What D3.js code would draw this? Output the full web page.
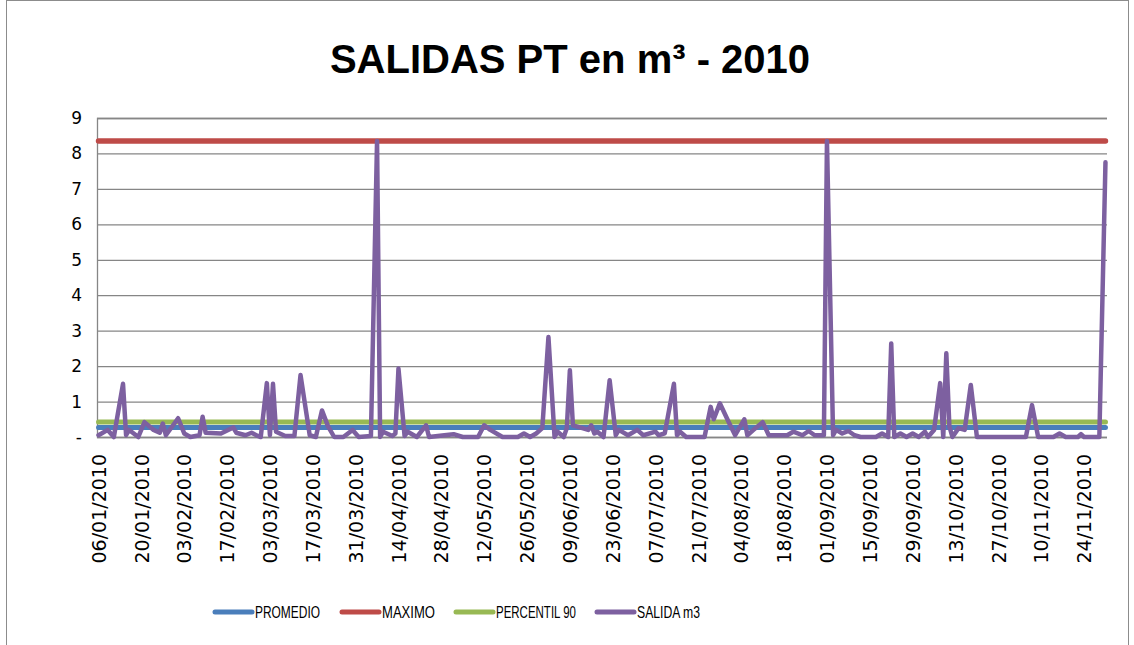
<!DOCTYPE html>
<html>
<head>
<meta charset="utf-8">
<script src="https://cdn.jsdelivr.net/npm/d3@7"></script>
<style>
  body { margin: 0; background: #fff; }
  svg { display: block; }
</style>
</head>
<body>
<div id="chart-holder"></div>
<script>
// tick labels on the date axis (every 14 days)
var tickLabels = ["06/01/2010","20/01/2010","03/02/2010","17/02/2010","03/03/2010","17/03/2010",
  "31/03/2010","14/04/2010","28/04/2010","12/05/2010","26/05/2010","09/06/2010","23/06/2010",
  "07/07/2010","21/07/2010","04/08/2010","18/08/2010","01/09/2010","15/09/2010","29/09/2010",
  "13/10/2010","27/10/2010","10/11/2010","24/11/2010"];

var yTicks = [0, 1, 2, 3, 4, 5, 6, 7, 8, 9];

// reference lines
var promedio = 0.27;
var maximo = 8.35;
var percentil90 = 0.42;

// SALIDA m3
var salidaDates = ["06/01","09/01","11/01","14/01","15/01","16/01","19/01","21/01","24/01","26/01",
  "27/01","28/01","01/02","03/02","05/02","08/02","09/02","10/02","15/02","19/02","20/02","23/02",
  "25/02","27/02","28/02","02/03","03/03","04/03","05/03","08/03","11/03","13/03","16/03","18/03",
  "20/03","22/03","24/03","27/03","30/03","01/04","05/04","07/04","08/04","09/04","12/04","13/04",
  "14/04","16/04","17/04","20/04","23/04","24/04","29/04","02/05","05/05","10/05","12/05","14/05",
  "18/05","23/05","25/05","27/05","29/05","31/05","02/06","04/06","05/06","07/06","08/06","09/06",
  "10/06","12/06","15/06","16/06","17/06","18/06","20/06","22/06","24/06","25/06","28/06","01/07",
  "03/07","07/07","08/07","10/07","13/07","14/07","15/07","17/07","23/07","25/07","26/07","28/07",
  "31/07","02/08","05/08","06/08","08/08","11/08","13/08","19/08","21/08","24/08","26/08","28/08",
  "31/08","01/09","03/09","04/09","06/09","08/09","10/09","12/09","17/09","19/09","21/09","22/09",
  "23/09","25/09","27/09","29/09","01/10","03/10","04/10","06/10","08/10","09/10","10/10","11/10",
  "12/10","14/10","16/10","18/10","20/10","25/10","31/10","05/11","07/11","09/11","14/11","16/11",
  "18/11","22/11","23/11","24/11","29/11","01/12"];
var salidaValues = [0.05,0.2,0,1.5,0.05,0.2,0,0.42,0.2,0.12,
  0.38,0.05,0.53,0.1,0,0.05,0.57,0.12,0.1,0.27,0.12,0.05,
  0.12,0.03,0,1.52,0.05,1.5,0.15,0.03,0.03,1.75,0.05,0,
  0.75,0.3,0,0,0.2,0,0.03,8.35,0,0.15,0.03,0.1,
  1.93,0.03,0.15,0,0.33,0,0.05,0.08,0,0,0.33,0.2,
  0,0,0.1,0,0.1,0.25,2.82,0,0.15,0,0.25,1.88,
  0.33,0.28,0.2,0.33,0.1,0.15,0,1.6,0.05,0.2,0.05,0.2,
  0.05,0.15,0.05,0.1,1.5,0.05,0.15,0,0,0.85,0.5,0.95,
  0.4,0.05,0.5,0.05,0.2,0.42,0.05,0.05,0.15,0.05,0.17,0.05,
  0.05,8.35,0.05,0.2,0.1,0.17,0.05,0,0,0.1,0,2.64,
  0,0.1,0,0.1,0,0.15,0,0.2,1.52,0,2.36,0.3,
  0,0.25,0.2,1.47,0,0,0,0,0.9,0,0,0.1,
  0,0,0.08,0,0,7.75];

var seriesNames = ["PROMEDIO", "MAXIMO", "PERCENTIL 90", "SALIDA m3"];
var seriesColors = ["#4A7EBB", "#BE4B48", "#98B954", "#7D60A0"];

var width = 1134, height = 645;
var plotLeft = 97, plotRight = 1107, plotTop = 118, plotBottom = 437;

var parseDate = d3.timeParse("%d/%m/%Y");
var salida = salidaDates.map(function(d, i) {
  return { date: parseDate(d + "/2010"), value: salidaValues[i] };
});
var firstDate = salida[0].date;
var lastDate = salida[salida.length - 1].date;

var x = d3.scaleTime()
  .domain([d3.timeHour.offset(firstDate, -12), d3.timeHour.offset(lastDate, 12)])
  .range([plotLeft, plotRight]);

var y = d3.scaleLinear()
  .domain([0, 9])
  .range([plotBottom, plotTop]);

var svg = d3.select("#chart-holder").append("svg")
  .attr("width", width)
  .attr("height", height);

// chart area border
svg.append("rect")
  .attr("x", 6.5).attr("y", 0.5)
  .attr("width", 1122).attr("height", 670)
  .attr("fill", "none")
  .attr("stroke", "#8c8c8c")
  .attr("stroke-width", 1);

// title
svg.append("text")
  .attr("x", 570).attr("y", 73)
  .attr("text-anchor", "middle")
  .style("font-family", "'Liberation Sans', Arial, sans-serif")
  .style("font-weight", "bold")
  .style("font-size", "40px")
  .text("SALIDAS PT en m³ - 2010");

// horizontal gridlines + y labels
var yAxis = d3.axisLeft(y)
  .tickValues(yTicks)
  .tickSize(-(plotRight - plotLeft))
  .tickPadding(15)
  .tickFormat(function(d) { return d === 0 ? "-" : d; });

var gy = svg.append("g")
  .attr("transform", "translate(" + plotLeft + ",0)")
  .call(yAxis);
gy.select(".domain").attr("stroke", "#868686").attr("stroke-width", 1.3);
gy.selectAll(".tick line").attr("stroke", "#868686").attr("stroke-width", 1.3);
gy.selectAll(".tick text")
  .style("font-family", "'DejaVu Sans', sans-serif")
  .style("font-size", "17px")
  .attr("fill", "#000");

// x axis labels (rotated)
var tickDates = tickLabels.map(parseDate);
var xAxis = d3.axisBottom(x)
  .tickValues(tickDates)
  .tickSize(0)
  .tickFormat(d3.timeFormat("%d/%m/%Y"));

var gx = svg.append("g")
  .attr("transform", "translate(0," + plotBottom + ")")
  .call(xAxis);
gx.select(".domain").remove();
gx.selectAll(".tick text")
  .attr("transform", "rotate(-90)")
  .attr("x", -17)
  .attr("y", 0)
  .attr("dy", "0.35em")
  .attr("text-anchor", "end")
  .style("font-family", "'DejaVu Sans', sans-serif")
  .style("font-size", "19px")
  .attr("fill", "#000");

// reference lines
var refValues = [promedio, maximo, percentil90];
var line = d3.line()
  .x(function(d) { return x(d.date); })
  .y(function(d) { return y(d.value); });

refValues.forEach(function(v, i) {
  svg.append("path")
    .datum([{ date: firstDate, value: v }, { date: lastDate, value: v }])
    .attr("d", line)
    .attr("fill", "none")
    .attr("stroke", seriesColors[i])
    .attr("stroke-width", i === 1 ? 5.5 : 5)
    .attr("stroke-linecap", "round");
});

// salida line
svg.append("path")
  .datum(salida)
  .attr("d", line)
  .attr("fill", "none")
  .attr("stroke", seriesColors[3])
  .attr("stroke-width", 4.5)
  .attr("stroke-linejoin", "round")
  .attr("stroke-linecap", "round");

// legend
var legendX = [215, 342, 456, 597];
var legendW = [65, 53, 80, 63];
var legend = svg.append("g").attr("transform", "translate(0,612)");
seriesNames.forEach(function(name, i) {
  legend.append("line")
    .attr("x1", legendX[i]).attr("x2", legendX[i] + 37)
    .attr("y1", 0).attr("y2", 0)
    .attr("stroke", seriesColors[i])
    .attr("stroke-width", 5)
    .attr("stroke-linecap", "round");
  legend.append("text")
    .attr("x", legendX[i] + 40)
    .attr("y", 0)
    .attr("dy", "0.36em")
    .attr("textLength", legendW[i])
    .attr("lengthAdjust", "spacingAndGlyphs")
    .style("font-family", "'Liberation Sans', sans-serif")
    .style("font-size", "17px")
    .text(name);
});
</script>
</body>
</html>
